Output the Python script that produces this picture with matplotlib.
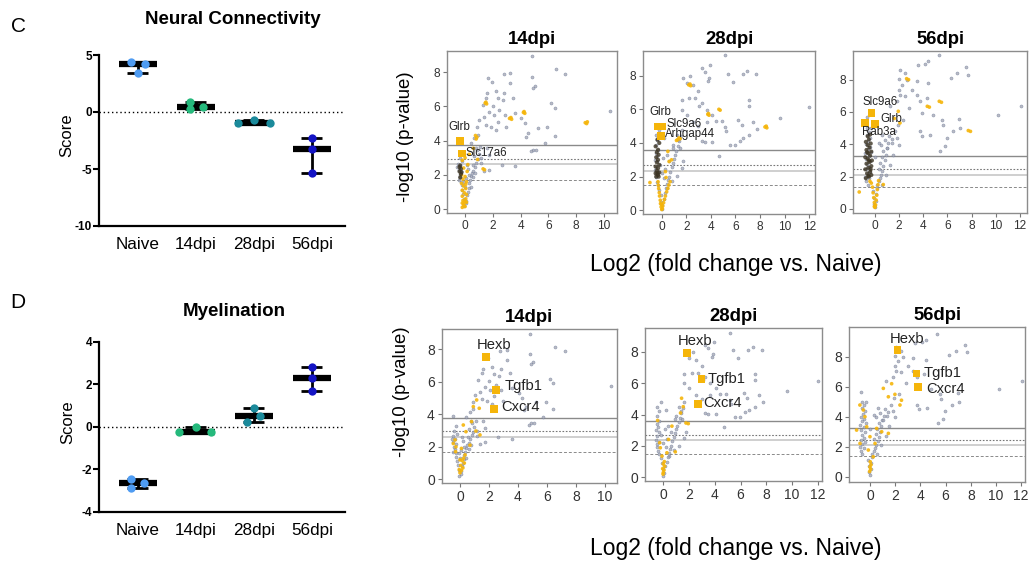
# coding:utf-8
# 通路评分 + 火山图 (Neural Connectivity / Myelination)

import numpy as np
import matplotlib
matplotlib.use("Agg")
import matplotlib.pyplot as plt

plt.rcParams['font.family'] = ['Liberation Sans', 'DejaVu Sans']

W, H = 1029, 561

# 评分数据
groups = ["Naive", "14dpi", "28dpi", "56dpi"]
group_colors = ["#4f9cf2", "#25b97c", "#1b8a9b", "#1414c4"]
neural_scores = [[4.35, 4.2, 3.45], [0.9, 0.3, 0.4], [-1.0, -0.7, -0.95], [-2.3, -3.25, -5.35]]
myelin_scores = [[-2.48, -2.9, -2.63], [-0.27, 0.0, -0.27], [0.86, 0.24, 0.52], [2.8, 2.28, 1.69]]

# 火山图: 所有基因 (log2FC, -log10 p)
grey_14 = [
    (4.81, 8.97), (6.56, 8.17), (7.21, 7.9), (2.79, 7.9), (3.22, 7.94), (4.83, 7.7), (1.63, 7.65),
    (1.94, 7.45), (3.22, 7.35), (5.05, 7.2), (4.88, 7.1), (2.24, 6.9), (1.59, 6.8), (2.82, 6.8),
    (1.51, 6.52), (2.36, 6.48), (2.72, 6.38), (3.44, 6.52), (6.2, 6.19), (6.44, 5.9), (10.4, 5.74),
    (1.27, 6.09), (1.99, 6.05), (2.47, 5.8), (1.75, 5.7), (2.07, 5.5), (2.84, 5.5), (3.56, 5.6),
    (1.39, 5.4), (1.03, 5.21), (2.36, 5.12), (1.51, 4.92), (0.87, 4.77), (1.88, 4.82), (2.24, 4.63),
    (2.96, 4.82), (4.28, 5.02), (4.52, 4.44), (4.4, 4.24), (4.04, 5.31), (5.24, 4.73), (5.91, 4.77),
    (6.44, 4.3), (5.72, 3.85), (4.88, 3.46), (5.12, 3.46), (4.76, 3.37), (3.56, 2.49), (2.65, 2.59),
    (1.75, 3.17), (1.15, 2.98), (0.79, 3.56), (0.67, 4.14), (0.43, 3.85), (0.91, 4.34), (1.75, 2.3),
    (1.39, 2.2), (1.15, 2.68), (1.59, 3.56),
    (-0.05, 0.2), (0.05, 0.35), (0.1, 0.5), (-0.1, 0.6), (0.15, 0.8), (-0.15, 0.9), (0.2, 1.0),
    (-0.2, 1.1), (0.25, 1.25), (0.0, 1.3), (-0.25, 1.4), (0.3, 1.5), (-0.3, 1.6), (0.35, 1.7),
    (0.1, 1.8), (-0.35, 1.85), (0.45, 1.95), (-0.4, 2.0), (0.5, 2.1), (-0.3, 2.2), (0.6, 2.25),
    (-0.45, 2.3), (0.2, 2.35), (0.7, 2.45), (-0.35, 2.5), (0.55, 2.6), (-0.5, 2.65), (0.8, 2.7),
    (-0.2, 2.8), (0.9, 2.9), (-0.4, 3.0), (0.65, 3.1), (1.0, 3.2), (-0.3, 3.3), (0.85, 3.45),
    (1.1, 3.6), (-0.5, 3.9), (0.3, 2.0), (0.4, 1.3), (-0.1, 1.6), (0.15, 2.6), (-0.45, 1.7),
    (0.6, 1.85), (0.75, 2.1), (-0.55, 2.45),
]
grey_28 = [
    (5.15, 9.21), (3.93, 8.61), (3.25, 8.46), (2.3, 7.96), (1.76, 7.86), (3.88, 7.86), (3.49, 8.22),
    (5.42, 8.1), (5.77, 7.62), (6.59, 8.1), (6.97, 8.3), (7.67, 8.1), (2.03, 7.58), (2.57, 7.47),
    (3.79, 7.66), (2.98, 7.07), (1.63, 6.57), (2.25, 6.67), (2.71, 6.67), (3.25, 6.38), (3.06, 6.18),
    (3.66, 5.98), (7.13, 6.57), (7.13, 6.18), (12.0, 6.12), (1.63, 5.98), (2.03, 5.68), (4.07, 5.68),
    (4.42, 5.29), (3.66, 5.25), (4.88, 5.33), (2.52, 5.25), (2.98, 4.99), (6.23, 5.39), (7.45, 5.25),
    (6.5, 5.05), (9.62, 5.49), (7.78, 4.83), (7.13, 4.5), (6.64, 4.3), (6.37, 4.14), (5.23, 4.69),
    (5.15, 4.93), (3.25, 4.1), (3.49, 4.04), (4.07, 4.04), (5.56, 3.86), (5.96, 3.86), (4.69, 3.21),
    (1.63, 4.79), (1.22, 4.5), (1.36, 4.2), (0.95, 3.9), (1.49, 3.7), (1.76, 2.91), (1.63, 2.51),
    (1.22, 2.02), (0.81, 1.72), (0.41, 1.33),
    (0.0, 0.1), (0.05, 0.3), (-0.05, 0.5), (0.15, 0.7), (-0.1, 0.9), (0.25, 1.0), (-0.2, 1.2),
    (0.35, 1.3), (-0.3, 1.5), (0.45, 1.55), (-0.4, 1.7), (0.55, 1.8), (-0.45, 1.95), (0.6, 2.0),
    (-0.5, 2.15), (0.0, 2.2), (-0.3, 2.25), (0.7, 2.3), (-0.55, 2.4), (0.3, 2.45), (0.8, 2.55),
    (-0.45, 2.6), (0.9, 2.8), (-0.35, 2.9), (-0.55, 3.0), (1.0, 3.05), (0.1, 3.1), (-0.4, 3.2),
    (1.1, 3.3), (-0.5, 3.4), (1.2, 3.5), (-0.3, 3.6), (0.9, 3.7), (1.3, 3.8), (-0.45, 3.9),
    (1.4, 4.1), (-0.35, 4.2), (0.2, 4.3), (-0.5, 4.5), (1.55, 4.4), (-0.2, 4.8), (0.4, 3.3),
    (0.6, 2.9), (-0.15, 2.7), (0.2, 1.9),
]
grey_56 = [
    (5.32, 9.5), (4.41, 9.13), (4.14, 8.97), (3.59, 8.93), (2.07, 8.62), (2.48, 8.41), (7.53, 8.76),
    (7.72, 8.31), (6.81, 8.41), (6.29, 8.1), (2.01, 8.06), (2.62, 8.0), (3.45, 7.9), (4.41, 7.79),
    (2.21, 7.69), (2.01, 7.38), (3.03, 7.38), (2.07, 7.07), (2.48, 6.97), (3.45, 7.07), (4.28, 6.87),
    (3.72, 6.66), (1.79, 6.66), (1.24, 6.35), (2.84, 6.25), (3.86, 5.94), (4.83, 5.84), (5.52, 5.53),
    (5.66, 5.18), (6.98, 5.59), (7.03, 5.01), (10.2, 5.84), (12.06, 6.35), (6.48, 4.8), (5.93, 4.39),
    (5.79, 3.88), (5.38, 3.57), (3.72, 4.8), (3.86, 4.49), (4.55, 4.56), (2.34, 5.53), (1.93, 5.22),
    (1.79, 4.39), (1.38, 4.08), (0.97, 3.77), (2.01, 3.98), (1.52, 3.36), (1.24, 2.74), (0.91, 2.12),
    (0.55, 1.51), (1.66, 4.8), (-0.69, 5.67), (-0.63, 5.0),
    (0.0, 0.1), (-0.05, 0.3), (0.05, 0.5), (-0.1, 0.7), (0.1, 0.9), (-0.15, 1.1), (0.15, 1.3),
    (-0.6, 1.5), (0.2, 1.5), (-0.7, 1.7), (0.3, 1.7), (-0.5, 1.9), (0.4, 1.9), (-0.8, 2.0),
    (0.5, 2.1), (-0.6, 2.2), (-0.4, 2.3), (0.6, 2.35), (-0.75, 2.45), (0.35, 2.5), (-0.5, 2.6),
    (0.7, 2.65), (-0.65, 2.8), (0.45, 2.85), (-0.4, 2.95), (0.8, 3.0), (-0.7, 3.1), (0.55, 3.2),
    (-0.5, 3.3), (0.9, 3.35), (-0.8, 3.45), (-0.35, 3.55), (0.7, 3.6), (-0.6, 3.7), (1.0, 3.75),
    (-0.45, 3.85), (0.5, 3.95), (-0.7, 4.0), (1.1, 4.05), (-0.55, 4.2), (0.8, 4.25), (-0.4, 4.4),
    (-0.65, 4.55), (1.2, 4.5), (-0.5, 4.75), (0.3, 4.1), (-0.3, 5.0), (0.6, 4.6), (1.4, 4.3),
    (0.0, 3.2),
]

# 通路基因 (Neural Connectivity)
neural_set_14 = [
    (1.45, 6.2), (1.55, 6.15), (1.5, 6.25), (3.2, 5.3), (3.35, 5.25), (3.3, 5.35), (4.2, 5.65),
    (4.3, 5.6), (4.25, 5.7), (8.65, 5.05), (8.8, 5.1), (8.75, 5.0), (0.75, 4.3), (0.85, 4.2),
    (0.8, 4.1), (0.6, 3.55), (0.9, 2.9), (1.3, 2.35), (1.4, 2.3), (0.3, 3.2),
    (-0.2, 0.1), (0.0, 0.15), (-0.1, 0.3), (0.1, 0.4), (-0.15, 0.5), (0.05, 0.6), (-0.2, 0.75),
    (0.1, 0.85), (-0.05, 0.95), (-0.2, 1.1), (0.05, 1.2), (-0.1, 1.35), (-0.25, 1.5), (0.1, 1.6),
    (-0.15, 1.75), (0.0, 1.9), (-0.25, 2.0), (0.15, 2.2), (-0.1, 2.4), (0.2, 2.6), (-0.2, 2.85),
    (0.0, 3.0), (0.0, 0.45), (-0.1, 0.2), (0.05, 1.45), (-0.2, 0.35),
]
neural_dark_14 = [(-0.35, 1.85), (-0.3, 2.05), (-0.4, 2.2), (-0.3, 2.35), (-0.35, 2.55),
                  (-0.25, 2.15), (-0.4, 2.45)]
neural_set_28 = [
    (0.0, 0.05), (-0.05, 0.2), (0.08, 0.25), (-0.1, 0.4), (0.15, 0.45), (-0.12, 0.6), (0.22, 0.65),
    (-0.18, 0.85), (0.3, 0.85), (-0.2, 1.05), (0.4, 1.1), (-0.25, 1.3), (0.5, 1.3), (-0.28, 1.5),
    (0.58, 1.5), (-0.3, 1.7), (0.68, 1.7), (-0.96, 1.65), (2.2, 7.45), (2.35, 7.4), (2.3, 7.5),
    (4.65, 6.0), (4.75, 5.95), (3.75, 5.7), (3.85, 5.65), (3.8, 5.75), (8.4, 4.95), (8.55, 4.9),
    (8.5, 5.0), (1.4, 4.3), (1.5, 4.25), (1.2, 4.15), (1.3, 4.2), (0.5, 3.5), (0.6, 2.9),
    (0.8, 3.0), (0.3, 2.3), (0.35, 1.95), (0.05, 0.1), (-0.02, 0.35),
]
neural_dark_28 = [
    (-0.45, 2.0), (-0.3, 2.1), (-0.5, 2.2), (-0.2, 2.25), (-0.4, 2.35), (-0.3, 2.5), (-0.5, 2.6),
    (-0.2, 2.7), (-0.4, 2.85), (-0.3, 3.0), (-0.45, 3.15), (-0.25, 3.3), (-0.4, 3.45), (-0.3, 3.6),
    (-0.5, 3.8), (-0.2, 4.0), (-0.35, 4.2), (-0.25, 2.0), (-0.35, 2.2),
]
neural_set_56 = [
    (0.0, 0.1), (0.05, 0.25), (-0.05, 0.4), (0.1, 0.55), (-0.1, 0.7), (0.15, 0.85), (-0.15, 1.0),
    (0.2, 1.2), (-0.2, 1.35), (0.25, 1.5), (-0.3, 1.6), (0.3, 1.75), (-1.3, 1.05), (-0.41, 1.71),
    (0.69, 1.51), (2.62, 8.06), (2.78, 8.0), (4.33, 6.35), (4.5, 6.3), (5.32, 6.66), (5.5, 6.6),
    (7.72, 4.85), (7.9, 4.8), (2.07, 5.32), (1.93, 6.04), (1.6, 5.6), (0.0, 0.2), (-0.05, 0.15),
]
neural_dark_56 = [
    (-0.75, 1.9), (-0.5, 2.0), (-0.3, 2.1), (-0.65, 2.2), (-0.4, 2.3), (-0.8, 2.45), (-0.55, 2.55),
    (-0.3, 2.65), (-0.7, 2.8), (-0.45, 2.9), (-0.25, 3.0), (-0.6, 3.1), (-0.8, 3.2), (-0.4, 3.3),
    (-0.55, 3.45), (-0.3, 3.55), (-0.7, 3.65), (-0.45, 3.8), (-0.6, 3.95), (-0.35, 4.05),
    (-0.75, 4.15), (-0.5, 4.3), (-0.6, 4.5), (-0.4, 4.6), (-0.55, 2.05), (-0.5, 3.0), (-0.65, 3.5),
    (-0.35, 2.45),
]

# 通路基因 (Myelination)
myelin_set_14 = [
    (1.15, 4.88), (1.33, 4.37), (0.92, 4.47), (0.41, 2.93), (1.1, 2.97), (0.8, 3.55), (1.38, 2.73),
    (-0.34, 2.42), (-0.46, 2.2), (-0.28, 2.0), (0.69, 2.1), (0.23, 3.34), (0.0, 0.4), (0.1, 0.55),
    (0.2, 0.7), (0.05, 0.85), (0.3, 1.0), (0.15, 1.15), (0.25, 1.3), (0.35, 1.5), (-0.05, 0.6),
    (0.1, 1.9), (-0.3, 1.7), (0.0, 1.2),
]
myelin_set_28 = [
    (1.42, 5.04), (1.55, 4.5), (1.34, 4.1), (1.76, 3.46), (1.94, 3.42), (0.67, 3.26), (0.41, 2.41),
    (-0.28, 2.2), (-0.23, 1.88), (0.28, 1.56), (0.93, 1.62), (-0.1, 1.35), (-0.44, 3.62),
    (0.0, 0.3), (0.05, 0.45), (-0.05, 0.55), (0.1, 0.7), (0.0, 0.85), (0.08, 1.0), (-0.02, 0.2),
]
myelin_set_56 = [
    (1.06, 5.89), (1.72, 6.2), (1.98, 5.49), (2.38, 4.78), (1.46, 5.33), (2.5, 5.1), (-0.8, 4.78),
    (-0.53, 4.45), (-0.4, 4.0), (-1.06, 3.11), (-0.26, 3.33), (0.53, 3.22), (0.93, 3.0), (1.46, 2.89),
    (0.0, 2.67), (0.4, 2.22), (-0.79, 2.22), (-0.13, 1.78), (0.26, 1.33), (0.05, 0.5), (0.0, 0.65),
    (0.08, 0.8), (0.02, 1.0), (-0.03, 0.35),
]

# 标注基因
neural_hits_14 = [("Glrb", -0.36, 3.99), ("Slc17a6", -0.24, 3.26)]
neural_hits_28 = [("Glrb", -0.36, 4.99), ("Slc9a6", 0.05, 4.99), ("Arhgap44", -0.08, 4.42)]
neural_hits_56 = [("Slc9a6", -0.27, 5.93), ("Glrb", 0.0, 5.24), ("Rab3a", -0.81, 5.32)]
myelin_hits_14 = [("Hexb", 1.79, 7.54), ("Tgfb1", 2.48, 5.5), ("Cxcr4", 2.34, 4.31)]
myelin_hits_28 = [("Hexb", 1.86, 7.91), ("Tgfb1", 2.98, 6.25), ("Cxcr4", 2.71, 4.68)]
myelin_hits_56 = [("Hexb", 2.17, 8.45), ("Tgfb1", 3.7, 6.89), ("Cxcr4", 3.83, 6.0)]

# 显著性阈值线
cutoffs_14 = [3.75, 2.95, 2.62, 1.7]
cutoffs_28 = [3.6, 2.72, 2.36, 1.5]
cutoffs_56 = [3.28, 2.46, 2.1, 1.35]

ORANGE = "#f5b50a"


def box(l, t, r, b):
    return [l / W, 1 - b / H, (r - l) / W, (b - t) / H]


def score_panel(fig, rect, scores, ylim, yticks, jitter):
    ax = fig.add_axes(rect)
    for i, vals in enumerate(scores):
        med = np.median(vals)
        lo, hi = min(vals), max(vals)
        ax.vlines(i, lo, hi, color="k", lw=2, zorder=2)
        ax.hlines([lo, hi], i - 0.18, i + 0.18, color="k", lw=2, zorder=2)
        ax.hlines(med, i - 0.33, i + 0.33, color="k", lw=4.5, zorder=2)
        ax.scatter(np.full(len(vals), i) + np.array(jitter[i]), vals, s=36,
                   color=group_colors[i], zorder=3, lw=0)
    ax.axhline(0, color="k", ls=(0, (1, 2)), lw=1, zorder=1)
    ax.set_xlim(-0.67, 3.57)
    ax.set_ylim(*ylim)
    ax.set_yticks(yticks)
    ax.set_yticklabels([str(t) for t in yticks], fontweight="bold", fontsize=8.5)
    ax.set_xticks(range(4))
    ax.set_xticklabels(groups, fontsize=12.3)
    ax.tick_params(axis="x", length=0, pad=8)
    ax.tick_params(axis="y", length=4, width=1.5, pad=1)
    for s in ["top", "right"]:
        ax.spines[s].set_visible(False)
    for s in ["left", "bottom"]:
        ax.spines[s].set_linewidth(1.6)
    return ax


def volcano(fig, rect, xlim, ylim, xticks, bg, gene_set, dark, hits, cuts, title,
            tick_fs, lab_fs, offsets):
    ax = fig.add_axes(rect)
    bg = np.array(bg)
    ax.scatter(bg[:, 0], bg[:, 1], s=5, c="#a4a6b2", edgecolors="#5e6f94", linewidths=0.3,
               alpha=0.75, zorder=2)
    gs = np.array(gene_set)
    ax.scatter(gs[:, 0], gs[:, 1], s=7, c=ORANGE, edgecolors="none", alpha=0.9, zorder=3)
    if dark:
        dk = np.array(dark)
        ax.scatter(dk[:, 0], dk[:, 1], s=9, c="#3b3322", edgecolors="none", alpha=0.8, zorder=3)
    styles = [("-", "#8a8a8a", 1.0), ((0, (1.5, 1.5)), "#777777", 0.8),
              ("-", "#cccccc", 1.3), ((0, (3, 2)), "#8a8a8a", 0.7)]
    for c, (ls, col, lw) in zip(cuts, styles):
        ax.axhline(c, ls=ls, color=col, lw=lw, zorder=1)
    for (name, x, y), (dx, dy, ha) in zip(hits, offsets):
        ax.scatter([x], [y], marker="s", s=30, c=ORANGE, edgecolors="none", zorder=4)
        ax.annotate(name, (x, y), xytext=(dx, dy), textcoords="offset points",
                    ha=ha, va="center", fontsize=lab_fs, color="#222222", zorder=5)
    ax.set_xlim(*xlim)
    ax.set_ylim(*ylim)
    ax.set_xticks(xticks)
    ax.set_yticks([0, 2, 4, 6, 8])
    ax.tick_params(length=3, color="#777777", labelcolor="#333333", labelsize=tick_fs, pad=2)
    for s in ax.spines.values():
        s.set_color("#8c8c8c")
        s.set_linewidth(1.0)
    ax.set_title(title, fontsize=13.3, fontweight="bold", pad=5)
    return ax


fig = plt.figure(figsize=(W / 100, H / 100), dpi=100)

# C: Neural Connectivity / D: Myelination 评分
jit_c = [[-0.11, 0.12, 0.0], [-0.11, -0.11, 0.12], [-0.28, 0.0, 0.28], [0, 0, 0]]
score_panel(fig, box(99, 55, 345, 226), neural_scores, (-10, 5), [-10, -5, 0, 5], jit_c)
jit_d = [[-0.11, -0.12, 0.11], [-0.29, 0.0, 0.26], [0.0, -0.12, 0.11], [0, 0, 0]]
score_panel(fig, box(99, 341.7, 345, 511.7), myelin_scores, (-4, 4), [-4, -2, 0, 2, 4], jit_d)

fig.text(18 / W, 1 - 27 / H, "C", fontsize=15, ha="center", va="center")
fig.text(18 / W, 1 - 302 / H, "D", fontsize=15, ha="center", va="center")
fig.text(233 / W, 1 - 20 / H, "Neural Connectivity", fontsize=13.5, fontweight="bold",
         ha="center", va="center")
fig.text(234 / W, 1 - 311.7 / H, "Myelination", fontsize=13.5, fontweight="bold",
         ha="center", va="center")
fig.text(67 / W, 1 - 135 / H, "Score", fontsize=12, rotation=90, ha="center", va="center")
fig.text(68 / W, 1 - 421.7 / H, "Score", fontsize=12, rotation=90, ha="center", va="center")

x10 = [0, 2, 4, 6, 8, 10]
x12 = [0, 2, 4, 6, 8, 10, 12]

volcano(fig, box(447, 50.7, 616.5, 213), (-1.3, 10.9), (-0.23, 9.26), x10, grey_14,
        neural_set_14, neural_dark_14, neural_hits_14, cutoffs_14, "14dpi", 8.6, 8.3,
        [(-0.5, 10, "center"), (2.5, 0, "left")])
volcano(fig, box(643.3, 50.7, 815, 213.7), (-1.5, 12.47), (-0.2, 9.48), x12, grey_28,
        neural_set_28, neural_dark_28, neural_hits_28, cutoffs_28, "28dpi", 8.6, 8.3,
        [(2, 10, "center"), (3, 2, "left"), (3, 1.5, "left")])
volcano(fig, box(853.3, 50.7, 1026.7, 213), (-1.79, 12.55), (-0.25, 9.79), x12, grey_56,
        neural_set_56, neural_dark_56, neural_hits_56, cutoffs_56, "56dpi", 8.6, 8.3,
        [(5.8, 7.7, "center"), (3.6, 3.6, "left"), (-2.4, -6.5, "left")])

volcano(fig, box(441.7, 329.3, 617, 482.7), (-1.26, 10.83), (-0.21, 9.23), x10, grey_14,
        myelin_set_14, None, myelin_hits_14, cutoffs_14, "14dpi", 10, 10.6,
        [(5.8, 8.4, "center"), (6.5, 3, "left"), (5.5, 1.5, "left")])
volcano(fig, box(645, 328.3, 821.7, 480.7), (-1.42, 12.3), (-0.22, 9.5), x12, grey_28,
        myelin_set_28, None, myelin_hits_28, cutoffs_28, "28dpi", 10, 10.6,
        [(5.5, 9, "center"), (4, 0, "left"), (4, 0.5, "left")])
volcano(fig, box(849.3, 326.7, 1025, 481.7), (-1.64, 12.3), (-0.33, 10.0), x12, grey_56,
        myelin_set_56, None, myelin_hits_56, cutoffs_56, "56dpi", 10, 10.6,
        [(6.8, 7.7, "center"), (4.8, 0.4, "left"), (5.5, -1.9, "left")])

fig.text(406 / W, 1 - 136.7 / H, "-log10 (p-value)", fontsize=13.4, rotation=90,
         ha="center", va="center")
fig.text(402 / W, 1 - 391.7 / H, "-log10 (p-value)", fontsize=13.4, rotation=90,
         ha="center", va="center")
fig.text(736 / W, 1 - 265 / H, "Log2 (fold change vs. Naive)", fontsize=16.5,
         ha="center", va="center")
fig.text(736 / W, 1 - 548 / H, "Log2 (fold change vs. Naive)", fontsize=16.5,
         ha="center", va="center")

fig.savefig("out.png", dpi=100)
